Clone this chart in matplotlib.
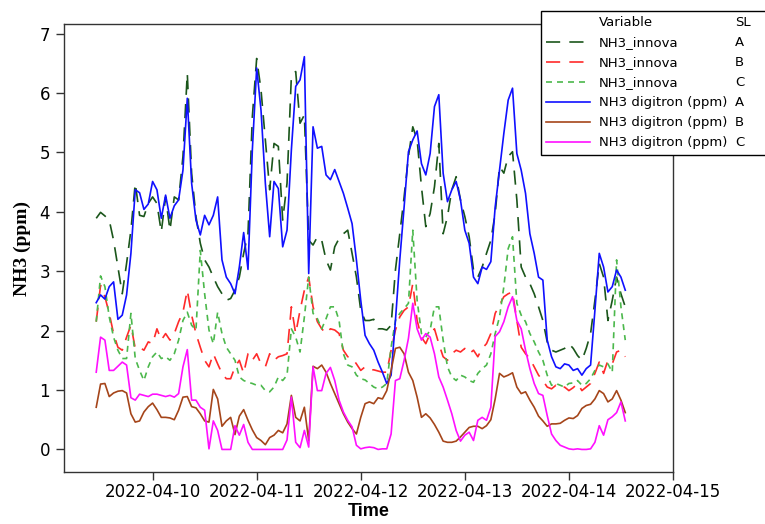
import pandas as pd
import matplotlib
matplotlib.use('Agg')
import matplotlib.pyplot as plt
import matplotlib.dates as mdates
from matplotlib.lines import Line2D

# hourly readings, 2022-04-09 11:00 .. 2022-04-14 13:00
times = pd.date_range('2022-04-09 11:00', periods=123, freq='h')

innova_a = [3.89, 3.99, 3.93, 3.86, 3.52, 3.07, 2.62, 3.13, 3.69, 4.48,
            3.94, 3.92, 4.14, 4.25, 4.14, 3.66, 4.25, 3.69, 4.25, 4.20,
            4.93, 6.33, 4.65, 3.92, 3.47, 3.19, 3.07, 2.90, 2.74, 2.62,
            2.51, 2.54, 2.68, 2.90, 3.30, 3.63, 5.60, 6.58, 6.05, 5.21,
            4.37, 5.15, 5.10, 3.86, 4.48, 6.28, 6.36, 5.49, 5.63, 3.52,
            3.44, 3.58, 3.52, 3.19, 3.02, 3.41, 3.55, 3.63, 3.69, 3.30,
            2.90, 2.34, 2.17, 2.17, 2.19, 2.03, 2.03, 2.01, 2.09, 3.02,
            3.63, 4.25, 4.93, 5.43, 5.21, 4.42, 3.75, 3.97, 4.42, 5.15,
            3.63, 3.92, 4.37, 4.59, 4.20, 3.92, 3.58, 3.02, 2.90, 3.07,
            3.30, 3.52, 3.97, 4.76, 4.65, 4.93, 5.01, 4.20, 3.07, 2.90,
            2.79, 2.62, 2.40, 2.17, 1.81, 1.67, 1.64, 1.67, 1.70, 1.78,
            1.70, 1.58, 1.50, 1.70, 1.95, 2.51, 3.13, 2.90, 2.17, 2.51,
            2.90, 2.62, 2.40]

innova_b = [2.15, 2.76, 2.57, 2.29, 1.95, 1.72, 1.67, 1.89, 2.09, 1.70,
            1.72, 1.67, 1.81, 1.78, 2.03, 1.84, 1.95, 1.84, 1.95, 2.15,
            2.31, 2.68, 2.26, 1.95, 1.72, 1.50, 1.39, 1.61, 1.44, 1.28,
            1.19, 1.19, 1.39, 1.50, 1.28, 1.61, 1.50, 1.61, 1.44, 1.39,
            1.61, 1.50, 1.56, 1.58, 1.61, 2.40, 1.95, 2.34, 2.68, 2.90,
            2.40, 2.15, 2.03, 1.95, 2.03, 2.01, 1.95, 1.67, 1.56, 1.54,
            1.44, 1.33, 1.39, 1.34, 1.34, 1.32, 1.30, 1.30, 1.67, 2.01,
            2.23, 2.34, 2.40, 2.79, 2.17, 1.89, 1.78, 1.95, 2.03, 1.78,
            1.56, 1.50, 1.61, 1.67, 1.64, 1.70, 1.61, 1.67, 1.56, 1.70,
            1.78, 1.95, 2.29, 2.43, 2.57, 2.62, 2.65, 2.17, 1.72, 1.61,
            1.53, 1.39, 1.25, 1.16, 1.05, 1.02, 1.08, 1.02, 1.05, 0.99,
            1.04, 1.11, 0.99, 1.05, 1.11, 1.28, 1.47, 1.28, 1.50, 1.44,
            1.64, 1.67, 1.56]

innova_c = [2.15, 2.92, 2.74, 2.23, 1.89, 1.67, 1.53, 1.53, 2.29, 1.53,
            1.33, 1.16, 1.39, 1.56, 1.64, 1.53, 1.56, 1.50, 1.61, 1.84,
            2.17, 2.31, 2.09, 2.01, 3.35, 2.62, 2.01, 1.78, 2.31, 1.95,
            1.72, 1.61, 1.50, 1.22, 1.16, 1.13, 1.11, 1.08, 1.08, 0.99,
            0.97, 1.05, 1.22, 1.16, 1.25, 2.03, 1.89, 1.64, 2.23, 2.90,
            2.29, 2.20, 2.03, 2.20, 2.40, 2.40, 2.17, 1.61, 1.42, 1.39,
            1.25, 1.19, 1.17, 1.11, 1.05, 1.02, 1.05, 1.11, 1.72, 2.17,
            2.29, 2.37, 2.46, 3.69, 2.51, 1.95, 1.89, 2.01, 2.40, 2.40,
            1.84, 1.39, 1.22, 1.16, 1.25, 1.22, 1.16, 1.13, 1.28, 1.36,
            1.42, 1.61, 1.95, 2.23, 2.74, 3.38, 3.58, 2.46, 2.26, 2.15,
            1.95, 1.81, 1.64, 1.50, 1.25, 1.08, 1.11, 1.08, 1.05, 1.11,
            1.12, 1.16, 1.08, 1.11, 1.19, 1.33, 1.42, 1.39, 1.44, 1.30,
            3.19, 2.40, 1.84]

digitron_a = [2.47, 2.60, 2.53, 2.74, 2.82, 2.19, 2.26, 2.60, 3.30, 4.37,
              4.32, 4.04, 4.13, 4.51, 4.37, 3.89, 4.28, 3.89, 4.10, 4.20,
              4.70, 5.91, 4.48, 3.86, 3.61, 3.94, 3.78, 3.94, 4.25, 3.19,
              2.90, 2.79, 2.62, 3.07, 3.65, 3.03, 5.04, 6.42, 5.71, 4.48,
              3.58, 4.51, 4.39, 3.41, 3.69, 5.04, 6.11, 6.22, 6.61, 2.96,
              5.43, 5.07, 5.10, 4.62, 4.54, 4.71, 4.51, 4.31, 4.06, 3.80,
              3.19, 2.51, 1.92, 1.78, 1.67, 1.47, 1.30, 1.11, 1.25, 2.17,
              3.19, 4.08, 5.01, 5.21, 5.36, 4.81, 4.62, 4.98, 5.77, 5.97,
              4.65, 4.17, 4.37, 4.51, 4.20, 3.69, 3.47, 2.90, 2.79, 3.07,
              3.03, 3.16, 4.08, 4.70, 5.32, 5.88, 6.08, 4.98, 4.70, 4.31,
              3.63, 3.30, 2.90, 2.85, 1.84, 1.56, 1.39, 1.36, 1.44, 1.42,
              1.33, 1.36, 1.25, 1.36, 1.42, 2.34, 3.30, 3.07, 2.65, 2.74,
              3.02, 2.90, 2.68]

digitron_b = [0.71, 1.10, 1.11, 0.89, 0.95, 0.98, 0.99, 0.95, 0.60, 0.46,
              0.48, 0.63, 0.72, 0.78, 0.67, 0.54, 0.54, 0.53, 0.50, 0.66,
              0.88, 0.89, 0.72, 0.70, 0.60, 0.48, 0.46, 1.01, 0.85, 0.39,
              0.48, 0.54, 0.25, 0.56, 0.67, 0.49, 0.33, 0.20, 0.15, 0.08,
              0.20, 0.24, 0.32, 0.28, 0.43, 0.91, 0.54, 0.48, 0.71, 0.15,
              1.40, 1.36, 1.42, 1.30, 1.11, 0.94, 0.77, 0.60, 0.46, 0.35,
              0.26, 0.54, 0.77, 0.80, 0.77, 0.87, 0.85, 0.99, 1.33, 1.70,
              1.72, 1.61, 1.30, 1.16, 0.88, 0.54, 0.60, 0.53, 0.42, 0.29,
              0.14, 0.12, 0.12, 0.14, 0.21, 0.29, 0.37, 0.39, 0.39, 0.35,
              0.40, 0.50, 0.85, 1.28, 1.22, 1.25, 1.29, 1.05, 0.94, 0.97,
              0.83, 0.71, 0.56, 0.48, 0.39, 0.43, 0.43, 0.44, 0.49, 0.53,
              0.52, 0.57, 0.69, 0.74, 0.76, 0.85, 0.99, 0.94, 0.80, 0.85,
              0.99, 0.83, 0.62]

digitron_c = [1.30, 1.89, 1.84, 1.33, 1.33, 1.40, 1.47, 1.42, 0.87, 0.83,
              0.93, 0.91, 0.89, 0.93, 0.93, 0.91, 0.89, 0.91, 0.88, 0.94,
              1.39, 1.68, 0.83, 0.83, 0.71, 0.66, 0.01, 0.48, 0.32, 0.00,
              0.00, 0.00, 0.40, 0.24, 0.42, 0.12, 0.00, 0.00, 0.00, 0.00,
              0.00, 0.00, 0.00, 0.00, 0.16, 0.88, 0.12, 0.03, 0.32, 0.04,
              1.39, 0.99, 0.99, 1.28, 1.38, 1.16, 0.83, 0.63, 0.49, 0.38,
              0.07, 0.01, 0.03, 0.04, 0.03, 0.00, 0.01, 0.01, 0.26, 1.16,
              1.19, 1.50, 1.87, 2.46, 2.03, 1.84, 1.95, 1.89, 1.61, 1.22,
              1.05, 0.83, 0.60, 0.32, 0.14, 0.24, 0.29, 0.15, 0.49, 0.54,
              0.49, 0.71, 1.90, 1.98, 2.15, 2.40, 2.57, 2.17, 2.03, 1.67,
              1.36, 1.11, 0.94, 0.91, 0.57, 0.26, 0.15, 0.07, 0.04, 0.01,
              0.00, 0.01, 0.00, 0.00, 0.01, 0.12, 0.40, 0.24, 0.50, 0.55,
              0.62, 0.80, 0.48]

variables = ['NH3_innova', 'NH3_innova', 'NH3_innova',
             'NH3 digitron (ppm)', 'NH3 digitron (ppm)', 'NH3 digitron (ppm)']
sl = ['A', 'B', 'C', 'A', 'B', 'C']
values = [innova_a, innova_b, innova_c, digitron_a, digitron_b, digitron_c]
colors = ['#1b561b', '#ff2a2a', '#4cb84c', '#1010ff', '#a5451a', '#ff10ff']
dashes = [(8.5, 5.5), (8.5, 5.5), (3.6, 3.0), None, None, None]

fig = plt.figure(figsize=(7.65, 5.24), dpi=100)
ax = fig.add_axes([0.0837, 0.0992, 0.7960, 0.855])

handles = [Line2D([], [], linestyle='none')]
for vals, col, dsh in zip(values, colors, dashes):
    if dsh is None:
        ln, = ax.plot(times, vals, color=col, lw=1.2)
    else:
        ln, = ax.plot(times, vals, color=col, lw=1.2, dashes=dsh)
    handles.append(ln)

ax.set_xlim(mdates.date2num(pd.Timestamp('2022-04-10')) - 0.851,
            mdates.date2num(pd.Timestamp('2022-04-15')))
ax.set_ylim(-0.38, 7.16)
ax.set_yticks(range(0, 8))
ax.xaxis.set_major_locator(mdates.DayLocator())
ax.xaxis.set_major_formatter(mdates.DateFormatter('%Y-%m-%d'))
ax.tick_params(axis='both', labelsize=12, length=6, width=1, color='#333333',
               labelcolor='black')
ax.tick_params(axis='x', pad=2)
ax.tick_params(axis='y', pad=4)
for s in ax.spines.values():
    s.set_linewidth(1.0)
    s.set_color('#333333')

ax.set_ylabel('NH3 (ppm)', family=['Liberation Serif', 'DejaVu Serif'],
              fontweight='bold', fontsize=14, labelpad=6)
ax.set_xlabel('Time', family=['Liberation Sans', 'DejaVu Sans'],
              fontweight='bold', fontsize=13, labelpad=1)

labels = ['Variable'] + variables
leg = fig.legend(handles, labels, loc='upper left',
                 bbox_to_anchor=(0.707, 0.979, 0.32, 0), mode='expand',
                 fancybox=False, edgecolor='black', framealpha=1,
                 fontsize=9.5, handlelength=3.3, handletextpad=0.7,
                 labelspacing=0.53, borderpad=0.4, borderaxespad=0)
leg.get_frame().set_linewidth(1.0)

# SL column next to the legend entries
fig.canvas.draw()
H = fig.bbox.height
for txt, letter in zip(leg.get_texts(), ['SL'] + sl):
    bb = txt.get_window_extent()
    fig.text(0.961, (bb.y0 + bb.y1) / 2 / H, letter, fontsize=9.5,
             va='center', ha='left', zorder=10)

fig.savefig('out.png', dpi=100)
